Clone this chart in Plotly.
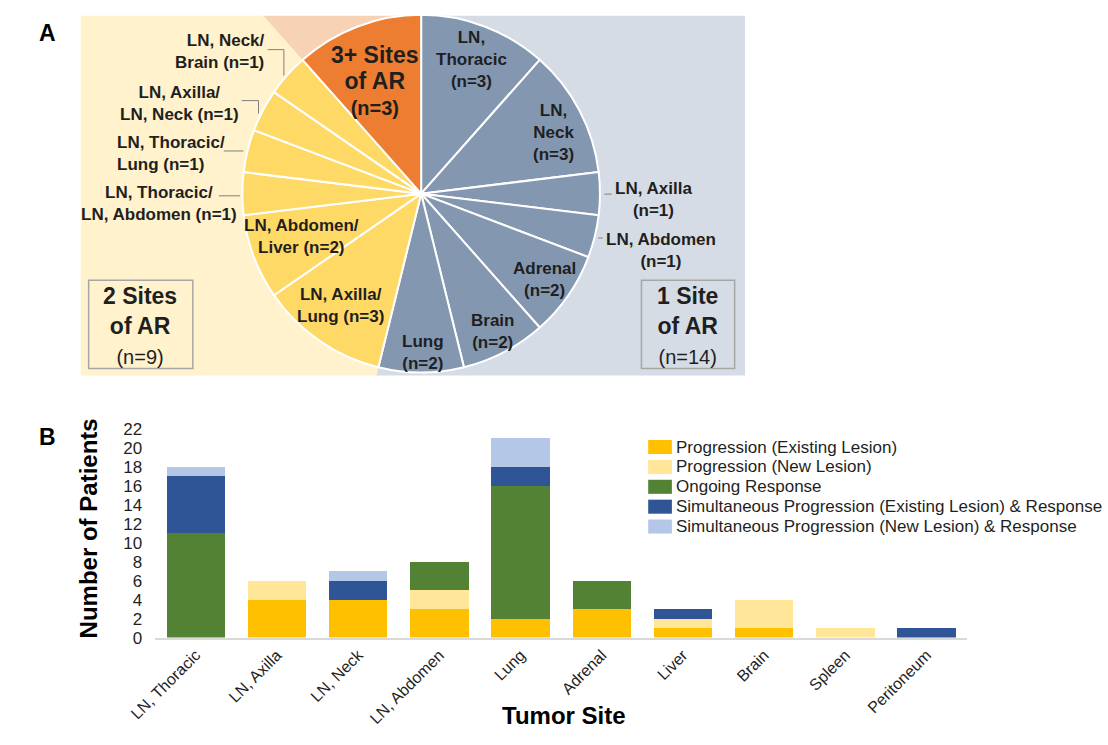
import numpy as np
import plotly.graph_objects as go

W, H = 1108, 745
FONT = "Liberation Sans, Arial, Helvetica, sans-serif"
INK = "#1f1f1f"

# ---------------- Panel A: sites of atypical response ----------------
site_names = [
    "LN, Thoracic", "LN, Neck", "LN, Axilla", "LN, Abdomen", "Adrenal", "Brain", "Lung",
    "LN, Axilla/Lung", "LN, Abdomen/Liver", "LN, Thoracic/LN, Abdomen", "LN, Thoracic/Lung",
    "LN, Axilla/LN, Neck", "LN, Neck/Brain", "3+ Sites of AR",
]
site_counts = [3, 3, 1, 1, 2, 2, 2, 3, 2, 1, 1, 1, 1, 3]
site_groups = ["1 Site"] * 7 + ["2 Sites"] * 6 + ["3+ Sites"]
slice_text = [
    "LN,<br>Thoracic<br>(n={n})", "LN,<br>Neck<br>(n={n})", "LN, Axilla<br>(n={n})",
    "LN, Abdomen<br>(n={n})", "Adrenal<br>(n={n})", "Brain<br>(n={n})", "Lung<br>(n={n})",
    "LN, Axilla/<br>Lung (n={n})", "LN, Abdomen/<br>Liver (n={n})",
    "LN, Thoracic/<br>LN, Abdomen (n={n})", "LN, Thoracic/<br>Lung (n={n})",
    "LN, Axilla/<br>LN, Neck (n={n})", "LN, Neck/<br>Brain (n={n})",
    "<span style='font-size:23px'>3+ Sites<br>of AR</span><br>(n={n})",
]
group_order = ["1 Site", "2 Sites", "3+ Sites"]
group_box_text = {"1 Site": "1 Site<br>of AR", "2 Sites": "2 Sites<br>of AR"}

# ---------------- Panel B: response by tumor site ----------------
tumor_sites = ["LN, Thoracic", "LN, Axilla", "LN, Neck", "LN, Abdomen", "Lung",
               "Adrenal", "Liver", "Brain", "Spleen", "Peritoneum"]
prog_existing = [0, 4, 4, 3, 2, 3, 1, 1, 0, 0]
prog_new = [0, 2, 0, 2, 0, 0, 1, 3, 1, 0]
ongoing = [11, 0, 0, 3, 14, 3, 0, 0, 0, 0]
sim_existing = [6, 0, 2, 0, 2, 0, 1, 0, 0, 1]
sim_new = [1, 0, 1, 0, 3, 0, 0, 0, 0, 0]
series_names = [
    "Progression (Existing Lesion)",
    "Progression (New Lesion)",
    "Ongoing Response",
    "Simultaneous Progression (Existing Lesion) & Response",
    "Simultaneous Progression (New Lesion) & Response",
]
series_values = [prog_existing, prog_new, ongoing, sim_existing, sim_new]
y_ticks = list(range(0, 23, 2))

# ---------------- styling ----------------
slice_color = {"1 Site": "#8497B0", "2 Sites": "#FFD966", "3+ Sites": "#ED7D31"}
wedge_color = {"1 Site": "#D6DCE5", "2 Sites": "#FFF2CC", "3+ Sites": "#F8D2B4"}
series_colors = ["#FFC000", "#FFE699", "#548235", "#2F5597", "#B4C7E7"]


def px(x):
    return x / W


def py(y):
    return 1 - y / H


fig = go.Figure()

# pie geometry (pixels)
cx, cy, R = 404.0, 189.5, 183.5
panel = dict(x0=55, x1=736, y0=7, y1=376)

# shaded wedges behind the pie, extending each group's angular span to the panel edge
total = sum(site_counts)
start = 0
for g in group_order:
    gv = sum(v for v, gg in zip(site_counts, site_groups) if gg == g)
    a0, a1 = 360.0 * start / total, 360.0 * (start + gv) / total
    th = np.radians(np.linspace(a0, a1, 80))
    xs = [cx] + list(cx + 3000 * np.sin(th)) + [cx]
    ys = [cy] + list(cy - 3000 * np.cos(th)) + [cy]
    fig.add_trace(go.Scatter(
        x=xs, y=ys, mode="lines", fill="toself", fillcolor=wedge_color[g],
        line=dict(width=0, color=wedge_color[g]), xaxis="x2", yaxis="y2",
        hoverinfo="skip", showlegend=False,
    ))
    start += gv

fig.add_trace(go.Pie(
    labels=site_names, values=site_counts, sort=False, direction="clockwise", rotation=0,
    marker=dict(colors=[slice_color[g] for g in site_groups], line=dict(color="white", width=2)),
    textinfo="none", hoverinfo="label+value", showlegend=False,
    domain=dict(x=[px(cx - R), px(cx + R)], y=[py(cy + R), py(cy - R)]),
))

# stacked bars
for name, vals, col in zip(series_names, series_values, series_colors):
    fig.add_trace(go.Bar(
        x=tumor_sites, y=vals, name=name, marker=dict(color=col, line=dict(width=0)),
        xaxis="x", yaxis="y", showlegend=False,
    ))

annotations = []
shapes = []

# slice labels
label_pos = [
    (456, 52, "center"), (540, 127, "center"), (642, 195, "center"), (650, 248, "center"),
    (530, 278, "center"), (477, 331, "center"), (406, 352, "center"), (321, 304, "center"),
    (281, 233, "center"), (135, 200, "center"), (90, 148.5, "left"), (156.5, 96.5, "center"),
    (246, 43.5, "right"), (357, 73, "center"),
]
for txt, n, (lx, ly, al) in zip(slice_text, site_counts, label_pos):
    size = 20 if txt.startswith("<span") else 17
    annotations.append(dict(
        x=px(lx), y=py(ly), xref="paper", yref="paper", text="<b>" + txt.format(n=n) + "</b>",
        showarrow=False, xanchor=al, yanchor="middle", align=al,
        font=dict(family=FONT, size=size, color=INK),
    ))

# leader lines for the thin slices
leaders = [
    [(246.7, 41.7), (263.3, 41.7), (263.3, 68.3)],
    [(220, 94), (237.3, 94), (237.3, 107.3)],
    [(201.7, 145.7), (221.7, 145.7)],
    [(196.7, 191.7), (218.3, 191.7)],
    [(591.7, 190), (599.3, 190)],
    [(585.5, 235), (590, 235)],
]
for pts in leaders:
    path = "M" + " L".join(f"{px(a):.5f},{py(b):.5f}" for a, b in pts)
    shapes.append(dict(type="path", path=path, xref="paper", yref="paper",
                       line=dict(color="#7f7f7f", width=1), layer="above"))

# group summary boxes
box_pos = {"2 Sites": (63.2, 170, 116), "1 Site": (629.8, 725.3, 677.5)}
for g, (bx0, bx1, tx) in box_pos.items():
    gn = sum(v for v, gg in zip(site_counts, site_groups) if gg == g)
    shapes.append(dict(type="rect", xref="paper", yref="paper",
                       x0=px(bx0), x1=px(bx1), y0=py(369), y1=py(278.3),
                       line=dict(color="#a6a6a6", width=1.5), fillcolor="rgba(0,0,0,0)", layer="above"))
    annotations.append(dict(
        x=px(tx), y=py(325), xref="paper", yref="paper",
        text=f"<b>{group_box_text[g]}</b><br><span style='font-size:20px'>(n={gn})</span>",
        showarrow=False, xanchor="center", yanchor="middle", align="center",
        font=dict(family=FONT, size=23, color=INK),
    ))

# panel letters
for letter, (lx, ly) in {"A": (21, 25), "B": (21.5, 439)}.items():
    annotations.append(dict(x=px(lx), y=py(ly), xref="paper", yref="paper", text=f"<b>{letter}</b>",
                            showarrow=False, xanchor="center", yanchor="middle",
                            font=dict(family=FONT, size=23, color="black")))

# axis titles for panel B
annotations.append(dict(x=px(62.5), y=py(533), xref="paper", yref="paper",
                        text="<b>Number of Patients</b>", textangle=-90, showarrow=False,
                        xanchor="center", yanchor="middle",
                        font=dict(family=FONT, size=24, color="black")))
annotations.append(dict(x=px(550), y=py(725), xref="paper", yref="paper",
                        text="<b>Tumor Site</b>", showarrow=False,
                        xanchor="center", yanchor="middle",
                        font=dict(family=FONT, size=24, color="black")))

# legend for panel B
for i, (name, col) in enumerate(zip(series_names, series_colors)):
    ry = 449.5 + 20.4 * i
    shapes.append(dict(type="rect", xref="paper", yref="paper",
                       x0=px(636.7), x1=px(661), y0=py(ry + 7.2), y1=py(ry - 7.2),
                       line=dict(width=0), fillcolor=col))
    annotations.append(dict(x=px(663.3), y=py(ry), xref="paper", yref="paper", text=name,
                            showarrow=False, xanchor="left", yanchor="middle",
                            font=dict(family=FONT, size=17, color=INK)))

x_left, x_right = 131.4, 963.6
fig.update_layout(
    width=W, height=H,
    margin=dict(l=0, r=0, t=0, b=0),
    paper_bgcolor="white", plot_bgcolor="white",
    showlegend=False, barmode="stack", bargap=0.28,
    font=dict(family=FONT, color=INK),
    xaxis=dict(domain=[px(x_left), px(x_right)], anchor="y", type="category",
               range=[-0.5, len(tumor_sites) - 0.5], tickangle=-45,
               showline=True, linecolor="#d9d9d9", linewidth=2, showgrid=False, zeroline=False,
               ticks="", tickfont=dict(family=FONT, size=16, color=INK), fixedrange=True),
    yaxis=dict(domain=[py(645), py(431)], anchor="x", range=[0, 22], tickvals=y_ticks,
               showline=False, showgrid=False, zeroline=False, ticks="",
               ticklabelstandoff=12, tickfont=dict(family=FONT, size=17, color=INK), fixedrange=True),
    xaxis2=dict(domain=[px(panel["x0"]), px(panel["x1"])], anchor="y2",
                range=[panel["x0"], panel["x1"]], visible=False, fixedrange=True),
    yaxis2=dict(domain=[py(panel["y1"]), py(panel["y0"])], anchor="x2",
                range=[panel["y1"], panel["y0"]], visible=False, fixedrange=True),
    annotations=annotations,
    shapes=shapes,
)

fig.write_html("out.html")
